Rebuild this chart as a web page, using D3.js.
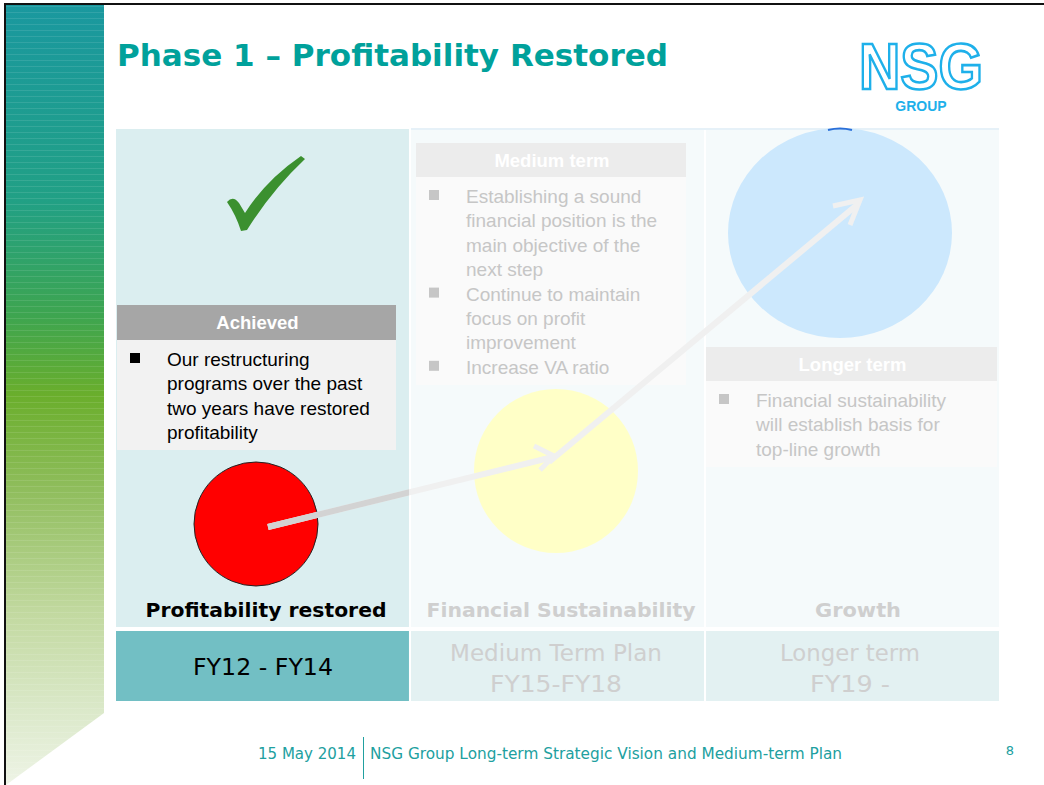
<!DOCTYPE html>
<html><head><meta charset="utf-8">
<script src="https://cdn.jsdelivr.net/npm/d3@7"></script>
<style>html,body{margin:0;padding:0;background:#fff;overflow:hidden}</style>
</head><body>
<script>
// ---- data ----
const title = "Phase 1 \u2013 Profitability Restored";
const columns = ["Profitability restored", "Financial Sustainability", "Growth"];
const periodLines = [["FY12 - FY14"], ["Medium Term Plan", "FY15-FY18"], ["Longer term", "FY19 -"]];
const boxTitles = ["Achieved", "Medium term", "Longer term"];
const achievedLines = [["Our restructuring", "programs over the past", "two years have restored", "profitability"]];
const mediumLines = [["Establishing a sound", "financial position is the", "main objective of the", "next step"], ["Continue to maintain", "focus on profit", "improvement"], ["Increase VA ratio"]];
const longerLines = [["Financial sustainability", "will establish basis for", "top-line growth"]];
const footerDate = "15 May 2014";
const footerText = "NSG Group Long-term Strategic Vision and Medium-term Plan";
const pageNo = "8";

(function () {
const W = 1044, H = 785;
const svg = d3.select("body").append("svg").attr("width", W).attr("height", H)
  .style("font-family", "'Liberation Sans', Arial, sans-serif");
const defs = svg.append("defs");

// sidebar gradient
const g = defs.append("linearGradient").attr("id", "side").attr("x1", 0).attr("y1", 0).attr("x2", 0).attr("y2", 1);
[[0, "#1a989f"], [0.25, "#21a085"], [0.4, "#3ea54f"], [0.5, "#6aae2c"], [0.62, "#8fbd5c"], [0.78, "#c2d9a0"], [0.9, "#dae8c8"], [1, "#eef4e6"]]
  .forEach(([o, c]) => g.append("stop").attr("offset", o).attr("stop-color", c));
const pat = defs.append("pattern").attr("id", "stripes").attr("width", 10).attr("height", 6).attr("patternUnits", "userSpaceOnUse");
pat.append("rect").attr("y", 0).attr("width", 10).attr("height", 1).attr("fill", "#fff").attr("opacity", 0.1);

svg.append("path").attr("d", "M6,5 L104,5 L104,713 L6,785 Z").attr("fill", "url(#side)");
svg.append("path").attr("d", "M6,5 L104,5 L104,713 L6,785 Z").attr("fill", "url(#stripes)");
// frame
svg.append("path").attr("d", "M5,785 L5,4 L1044,4").attr("fill", "none").attr("stroke", "#111").attr("stroke-width", 2);

// title
svg.append("text").attr("x", 117).attr("y", 66).text(title)
  .attr("font-family", "'DejaVu Sans', Verdana, sans-serif").attr("font-weight", "bold")
  .attr("font-size", 31).attr("fill", "#00a19b").attr("textLength", 551).attr("lengthAdjust", "spacingAndGlyphs");

// logo
svg.append("text").attr("x", 859).attr("y", 89).text("NSG")
  .attr("font-family", "'Liberation Sans', Arial, sans-serif").attr("font-weight", "bold")
  .attr("font-size", 64).attr("fill", "#fff").attr("stroke", "#1eb0ea").attr("stroke-width", 2.6)
  .attr("textLength", 124).attr("lengthAdjust", "spacingAndGlyphs");
svg.append("text").attr("x", 921).attr("y", 111).attr("text-anchor", "middle").text("GROUP")
  .attr("font-size", 14).attr("fill", "#1eb0ea").attr("font-weight", "bold");

// column scale
const x = d3.scaleBand().domain(columns).range([116, 999]).paddingInner(0.007).paddingOuter(0);
const bw = x.bandwidth();
const pTop = 129, pBottom = 627, rowTop = 631, rowBot = 701;

// panel backgrounds
const panelFill = ["#dbeef0", "#f5fafb", "#f5fafb"];
const rowFill = ["#72bfc4", "#e3f1f2", "#e3f1f2"];
columns.forEach((c, i) => {
  svg.append("rect").attr("x", x(c)).attr("y", pTop).attr("width", bw).attr("height", pBottom - pTop).attr("fill", panelFill[i]);
  svg.append("rect").attr("x", x(c)).attr("y", rowTop).attr("width", bw).attr("height", rowBot - rowTop).attr("fill", rowFill[i]);
});
svg.append("line").attr("x1", x(columns[1])).attr("x2", 999).attr("y1", pTop).attr("y2", pTop).attr("stroke", "#e6f1f8").attr("stroke-width", 2);

// check mark
svg.append("path")
  .attr("d", "M227,202 Q233,195 239,203 L245,213 Q266,180 301,156 L305,159 Q272,190 247,230 L241,231 Q236,215 227,202 Z")
  .attr("fill", "#3b902f");

// text boxes
function box(x0, y0, w, hh, bodyH, titleTxt, paras, dark) {
  svg.append("rect").attr("x", x0).attr("y", y0).attr("width", w).attr("height", hh).attr("fill", dark ? "#a6a6a6" : "#ececec");
  svg.append("rect").attr("x", x0).attr("y", y0 + hh).attr("width", w).attr("height", bodyH).attr("fill", dark ? "#f2f2f2" : "#fafafa");
  svg.append("text").attr("x", x0 + w / 2 + 1).attr("y", y0 + hh / 2 + 6.5).attr("text-anchor", "middle")
    .attr("font-weight", "bold").attr("font-size", 18.5).attr("fill", "#fff").text(titleTxt);
  let yy = y0 + hh + 26;
  paras.forEach(p => {
    svg.append("rect").attr("x", x0 + 13).attr("y", yy - 13).attr("width", 10).attr("height", 10).attr("fill", dark ? "#000" : "#c6c6c6");
    p.forEach(line => {
      svg.append("text").attr("x", x0 + 50).attr("y", yy).attr("font-size", 19).attr("fill", dark ? "#000" : "#c6c6c6").text(line);
      yy += 24.4;
    });
  });
}
box(117, 305, 279, 35, 110, boxTitles[0], achievedLines, true);
box(416, 143, 270, 34, 208, boxTitles[1], mediumLines, false);
box(706, 347, 291, 34, 86, boxTitles[2], longerLines, false);

// circles
const circles = [
  {cx: 256, cy: 524, rx: 62, ry: 62, fill: "#ff0000", stroke: "#222"},
  {cx: 556, cy: 471, rx: 82, ry: 82, fill: "#ffffc7", stroke: "none"},
  {cx: 840, cy: 233, rx: 112, ry: 105, fill: "#cce8fd", stroke: "none"}
];
svg.selectAll("ellipse.c").data(circles).join("ellipse").attr("class", "c")
  .attr("cx", d => d.cx).attr("cy", d => d.cy).attr("rx", d => d.rx).attr("ry", d => d.ry)
  .attr("fill", d => d.fill).attr("stroke", d => d.stroke).attr("stroke-width", 1);
svg.append("path").attr("d", "M828,130 Q840,127 852,130").attr("stroke", "#2a6fd8").attr("stroke-width", 2).attr("fill", "none");

// arrows
const clip = defs.append("clipPath").attr("id", "col1");
clip.append("rect").attr("x", x(columns[0])).attr("y", pTop).attr("width", bw).attr("height", pBottom - pTop);
function arrows(sel, color) {
  const gg = sel.append("g").attr("stroke", color).attr("fill", "none").attr("stroke-width", 6).attr("stroke-linecap", "butt");
  gg.append("line").attr("x1", 268).attr("y1", 527).attr("x2", 553).attr("y2", 457);
  gg.append("path").attr("d", "M534,446 L554,456 L540,470").attr("stroke-width", 5).attr("stroke-linejoin", "miter");
  gg.append("line").attr("x1", 549).attr("y1", 462).attr("x2", 858).attr("y2", 204);
  gg.append("path").attr("d", "M833,206 L860,200 L850,225").attr("stroke-width", 5).attr("stroke-linejoin", "miter");
}
arrows(svg, "#f0f0f0");
arrows(svg.append("g").attr("clip-path", "url(#col1)"), "#d3d3d3");

// column labels
const labelColor = ["#000", "#cfcfcf", "#cfcfcf"];
const labelX = [266, 561, 858];
svg.selectAll("text.lab").data(columns).join("text").attr("class", "lab")
  .attr("x", (d, i) => labelX[i]).attr("y", 617).attr("text-anchor", "middle")
  .attr("font-family", "'DejaVu Sans', Verdana, sans-serif").attr("font-weight", "bold").attr("font-size", 20)
  .attr("fill", (d, i) => labelColor[i]).text(d => d)
  .attr("textLength", (d, i) => [241, 269, 86][i]).attr("lengthAdjust", "spacingAndGlyphs");

// period labels
const perColor = ["#000", "#cfcfcf", "#cfcfcf"];
const perX = [263, 556, 850];
const perLen = {"FY12 - FY14": 140, "Medium Term Plan": 212, "FY15-FY18": 132, "Longer term": 140, "FY19 -": 80};
periodLines.forEach((lines, i) => {
  const y0 = lines.length === 1 ? 675 : 661;
  lines.forEach((l, j) => {
    svg.append("text").attr("x", perX[i]).attr("y", y0 + j * 31).attr("text-anchor", "middle")
      .attr("font-family", "'DejaVu Sans', Verdana, sans-serif").attr("font-size", 23).attr("fill", perColor[i])
      .text(l).attr("textLength", perLen[l]).attr("lengthAdjust", "spacingAndGlyphs");
  });
});

// footer
svg.append("text").attr("x", 258).attr("y", 759).text(footerDate)
  .attr("font-family", "'DejaVu Sans', Verdana, sans-serif").attr("font-size", 15).attr("fill", "#21a0a0")
  .attr("textLength", 98).attr("lengthAdjust", "spacingAndGlyphs");
svg.append("line").attr("x1", 363.5).attr("x2", 363.5).attr("y1", 737).attr("y2", 779).attr("stroke", "#21a0a0").attr("stroke-width", 1);
svg.append("text").attr("x", 370).attr("y", 759).text(footerText)
  .attr("font-family", "'DejaVu Sans', Verdana, sans-serif").attr("font-size", 15).attr("fill", "#21a0a0")
  .attr("textLength", 472).attr("lengthAdjust", "spacingAndGlyphs");
svg.append("text").attr("x", 1010).attr("y", 755).attr("text-anchor", "middle").text(pageNo)
  .attr("font-family", "'DejaVu Sans', Verdana, sans-serif").attr("font-size", 13).attr("fill", "#21a0a0");
})();
</script>
</body></html>
